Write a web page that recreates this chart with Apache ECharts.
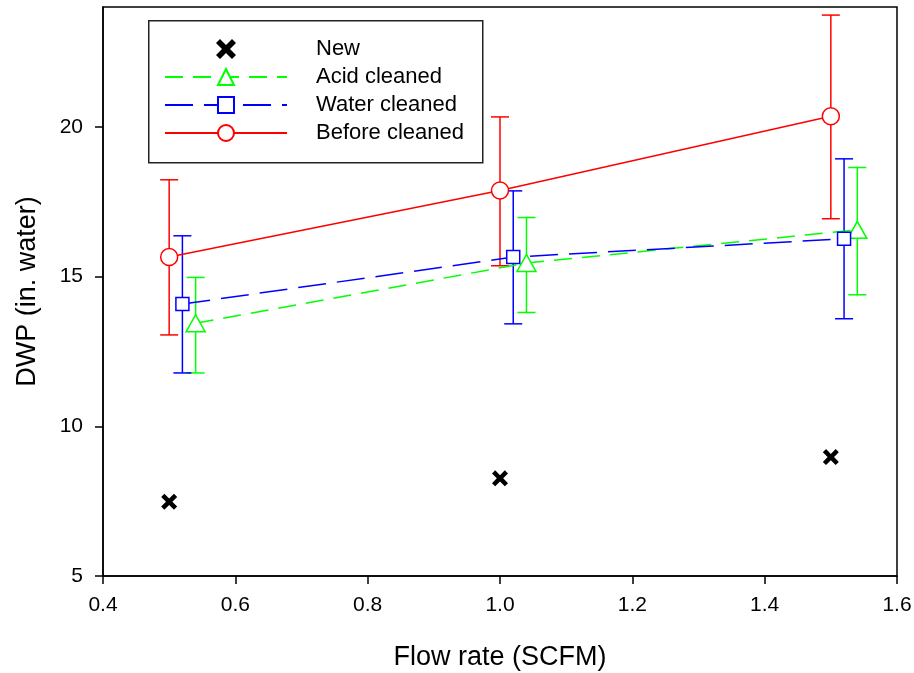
<!DOCTYPE html>
<html>
<head>
<meta charset="utf-8">
<script src="https://cdn.jsdelivr.net/npm/echarts@6/dist/echarts.min.js"></script>
<style>
  html, body { margin: 0; padding: 0; background: #fff; }
  #main { width: 914px; height: 673px; }
</style>
</head>
<body>
<div id="main"></div>
<script>
// values
const seriesNames = ['New', 'Acid cleaned', 'Water cleaned', 'Before cleaned'];

const flowNew = [0.5, 1.0, 1.5];
const dwpNew = [7.48, 8.26, 8.97];

const flowAcid = [0.54, 1.04, 1.54];
const dwpAcid = [13.44, 15.45, 16.56];
const acidLow = [11.78, 13.8, 14.39];
const acidHigh = [14.97, 16.97, 18.64];

const flowWater = [0.52, 1.02, 1.52];
const dwpWater = [14.08, 15.65, 16.26];
const waterLow = [11.78, 13.42, 13.59];
const waterHigh = [16.36, 17.86, 18.93];

const flowBefore = [0.5, 1.0, 1.5];
const dwpBefore = [15.65, 17.87, 20.35];
const beforeLow = [13.05, 15.36, 16.93];
const beforeHigh = [18.23, 20.33, 23.73];

const font = 'Liberation Sans, Arial, sans-serif';
const crossPath = 'path://M0,2L2,0L5,3L8,0L10,2L7,5L10,8L8,10L5,7L2,10L0,8L3,5Z';

const pairs = (xs, ys) => xs.map((x, i) => [x, ys[i]]);
const bars = (xs, lo, hi) => xs.map((x, i) => [x, lo[i], hi[i]]);

function errorBars(data, color) {
    return {
        type: 'custom',
        z: 1,
        silent: true,
        data: data,
        encode: { x: 0, y: [1, 2] },
        renderItem: (params, api) => {
            const lo = api.coord([api.value(0), api.value(1)]);
            const hi = api.coord([api.value(0), api.value(2)]);
            const w = 9;
            const style = { stroke: color, lineWidth: 1.5 };
            return {
                type: 'group',
                children: [
                    { type: 'line', shape: { x1: lo[0], y1: lo[1], x2: hi[0], y2: hi[1] }, style },
                    { type: 'line', shape: { x1: lo[0] - w, y1: lo[1], x2: lo[0] + w, y2: lo[1] }, style },
                    { type: 'line', shape: { x1: hi[0] - w, y1: hi[1], x2: hi[0] + w, y2: hi[1] }, style }
                ]
            };
        }
    };
}

const myChart = echarts.init(document.getElementById('main'));
myChart.setOption({
    animation: false,
    backgroundColor: '#fff',
    grid: {
        left: 103, right: 17, top: 7, bottom: 97,
        outerBoundsMode: 'none', containLabel: false,
        show: true, borderColor: '#000', borderWidth: 1.5
    },
    graphic: [{
        type: 'rect', left: 148, top: 20, z: 100,
        shape: { width: 334, height: 142 },
        style: { fill: '#fff', stroke: '#222', lineWidth: 1.5 }
    }],
    legend: {
        data: seriesNames,
        orient: 'vertical',
        left: 148, top: 20,
        padding: [18, 16, 19, 16],
        itemWidth: 122, itemHeight: 20, itemGap: 6,
        z: 110,
        textStyle: { fontFamily: font, fontSize: 22, lineHeight: 22, color: '#000', padding: [0, 0, 0, 24] }
    },
    xAxis: {
        type: 'value', min: 0.4, max: 1.6, interval: 0.2,
        name: 'Flow rate (SCFM)', nameLocation: 'middle', nameGap: 68,
        nameTextStyle: { fontFamily: font, fontSize: 27, color: '#000' },
        axisLine: { lineStyle: { color: '#000', width: 1.5 } },
        axisTick: { length: 8, lineStyle: { color: '#000', width: 1.5 } },
        axisLabel: { fontFamily: font, fontSize: 21, color: '#000', margin: 19, formatter: v => v.toFixed(1) },
        splitLine: { show: false }
    },
    yAxis: {
        type: 'value', min: 5, max: 24, interval: 5,
        name: 'DWP (in. water)', nameLocation: 'middle', nameGap: 62,
        nameTextStyle: { fontFamily: font, fontSize: 27, color: '#000' },
        axisLine: { show: true, lineStyle: { color: '#000', width: 1.5 } },
        axisTick: { show: true, length: 8, lineStyle: { color: '#000', width: 1.5 } },
        axisLabel: { fontFamily: font, fontSize: 21, color: '#000', margin: 20, showMaxLabel: false },
        splitLine: { show: false }
    },
    series: [
        {
            name: 'New', type: 'scatter', z: 3,
            data: pairs(flowNew, dwpNew),
            symbol: crossPath, symbolSize: 16,
            itemStyle: { color: '#000', opacity: 1 }
        },
        {
            name: 'Acid cleaned', type: 'line', z: 3,
            data: pairs(flowAcid, dwpAcid),
            symbol: 'triangle', symbolSize: [19, 17], showAllSymbol: true,
            lineStyle: { color: '#00ff00', width: 1.5, type: [18, 10] },
            itemStyle: { color: '#fff', borderColor: '#00ff00', borderWidth: 1.5 }
        },
        {
            name: 'Water cleaned', type: 'line', z: 3,
            data: pairs(flowWater, dwpWater),
            symbol: 'rect', symbolSize: 13, showAllSymbol: true,
            lineStyle: { color: '#0000ff', width: 1.5, type: [28, 11] },
            itemStyle: { color: '#fff', borderColor: '#0000ff', borderWidth: 1.5 }
        },
        {
            name: 'Before cleaned', type: 'line', z: 3,
            data: pairs(flowBefore, dwpBefore),
            symbol: 'circle', symbolSize: 17, showAllSymbol: true,
            lineStyle: { color: '#ff0000', width: 1.5 },
            itemStyle: { color: '#fff', borderColor: '#ff0000', borderWidth: 1.5 }
        },
        errorBars(bars(flowAcid, acidLow, acidHigh), '#00ff00'),
        errorBars(bars(flowWater, waterLow, waterHigh), '#0000ff'),
        errorBars(bars(flowBefore, beforeLow, beforeHigh), '#ff0000')
    ]
});
</script>
</body>
</html>
